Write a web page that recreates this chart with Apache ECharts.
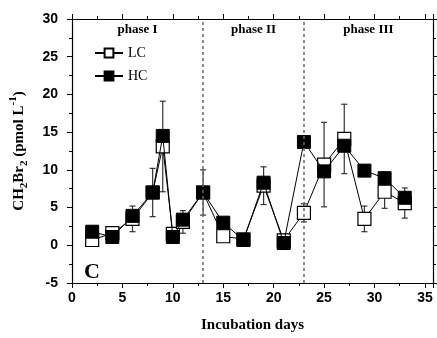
<!DOCTYPE html>
<html>
<head>
<meta charset="utf-8">
<script src="https://cdn.jsdelivr.net/npm/echarts@6/dist/echarts.min.js"></script>
<style>
  html, body { margin: 0; padding: 0; background: #fff; }
  #main { width: 437px; height: 338px; }
</style>
</head>
<body>
<div id="main"></div>
<script>
// incubation days
const days = [2, 4, 6, 8, 9, 10, 11, 13, 15, 17, 19, 21, 23, 25, 27, 29, 31, 33];
// CH2Br2 (pmol/L)
const lcValues = [0.7, 1.6, 3.5, 7.0, 13.1, 1.5, 3.1, 7.0, 1.2, 0.8, 7.9, 0.65, 4.3, 10.7, 14.1, 3.5, 7.1, 5.6];
const hcValues = [1.8, 1.1, 3.9, 7.0, 14.5, 1.1, 3.4, 7.0, 3.0, 0.7, 8.3, 0.3, 13.7, 9.8, 13.2, 9.9, 8.9, 6.3];
// error bars (+/-)
const lcErrors = [0.5, 0, 1.7, 0, 6.0, 0, 1.5, 0, 0.7, 0, 2.5, 0.5, 1.2, 5.6, 4.6, 1.7, 2.2, 2.0];
const hcErrors = [0, 0, 0, 3.2, 0, 0, 0, 3.0, 0, 0, 0, 0, 0, 0, 0, 0, 0, 0];
// phase boundaries
const phaseBreaks = [13, 23];
const phaseNames = ['phase I', 'phase II', 'phase III'];
const xMin = 0, xMax = 35.8;
const yMin = -5, yMax = 30;

const serif = 'Liberation Serif';
const sans = 'Liberation Sans';

const chart = echarts.init(document.getElementById('main'));

// error bar data: [x, low, high]
const errData = [];
days.forEach((d, i) => {
  if (lcErrors[i] > 0) errData.push([d, lcValues[i] - lcErrors[i], lcValues[i] + lcErrors[i]]);
  if (hcErrors[i] > 0) errData.push([d, hcValues[i] - hcErrors[i], hcValues[i] + hcErrors[i]]);
});

const bounds = [xMin].concat(phaseBreaks, [xMax]);
const phaseAreas = phaseNames.map((n, i) => [
  { xAxis: bounds[i], name: n },
  { xAxis: bounds[i + 1] }
]);

const tickStyle = { show: true, inside: false, length: 5, lineStyle: { color: '#000', width: 1 } };
const minorStyle = { show: true, splitNumber: 2, length: 3, lineStyle: { color: '#000', width: 1 } };
const lineAx = { show: true, onZero: false, lineStyle: { color: '#000', width: 1.2 } };

const option = {
  animation: false,
  backgroundColor: '#fff',
  grid: { left: 68, right: 4, top: 19, bottom: 47, show: false },
  legend: {
    data: ['LC', 'HC'],
    orient: 'vertical',
    left: 89, top: 41,
    itemWidth: 28, itemHeight: 11, itemGap: 9,
    textStyle: { fontFamily: serif, fontSize: 14, color: '#000' }
  },
  xAxis: [
    {
      type: 'value', min: xMin, max: xMax, interval: 5,
      axisLine: lineAx, axisTick: tickStyle, minorTick: minorStyle,
      splitLine: { show: false },
      axisLabel: {
        margin: 8, color: '#000', fontFamily: sans, fontWeight: 'bold', fontSize: 14,
        formatter: v => (v % 5 === 0 ? String(v) : '')
      },
      name: 'Incubation days', nameLocation: 'middle', nameGap: 35,
      nameTextStyle: { fontFamily: serif, fontWeight: 'bold', fontSize: 15, color: '#000' }
    },
    {
      type: 'value', position: 'top', min: xMin, max: xMax, interval: 5,
      axisLine: lineAx, axisTick: tickStyle, minorTick: minorStyle,
      splitLine: { show: false }, axisLabel: { show: false }
    }
  ],
  yAxis: [
    {
      type: 'value', min: yMin, max: yMax, interval: 5,
      axisLine: lineAx, axisTick: tickStyle, minorTick: minorStyle,
      splitLine: { show: false },
      axisLabel: { margin: 14, color: '#000', fontFamily: sans, fontWeight: 'bold', fontSize: 14 },
      name: '{a|CH}{s|2}{a|Br}{s|2}{a| (pmol L}{p|-1}{a|)}',
      nameLocation: 'middle', nameRotate: 90, nameGap: 42,
      nameTextStyle: {
        color: '#000',
        rich: {
          a: { fontFamily: serif, fontWeight: 'bold', fontSize: 15, lineHeight: 22, verticalAlign: 'middle', color: '#000' },
          s: { fontFamily: serif, fontWeight: 'bold', fontSize: 11, lineHeight: 11, verticalAlign: 'bottom', color: '#000' },
          p: { fontFamily: serif, fontWeight: 'bold', fontSize: 11, lineHeight: 11, verticalAlign: 'top', color: '#000' }
        }
      }
    },
    {
      type: 'value', position: 'right', min: yMin, max: yMax, interval: 5,
      axisLine: lineAx, axisTick: tickStyle, minorTick: minorStyle,
      splitLine: { show: false }, axisLabel: { show: false }
    }
  ],
  series: [
    {
      type: 'custom',
      name: 'err',
      z: 1,
      silent: true,
      renderItem: (params, api) => {
        const x = api.value(0);
        const lo = api.coord([x, api.value(1)]);
        const hi = api.coord([x, api.value(2)]);
        const cw = 3;
        const st = { stroke: '#333', lineWidth: 1.2 };
        return {
          type: 'group',
          children: [
            { type: 'line', shape: { x1: lo[0], y1: lo[1], x2: hi[0], y2: hi[1] }, style: st },
            { type: 'line', shape: { x1: hi[0] - cw, y1: hi[1], x2: hi[0] + cw, y2: hi[1] }, style: st },
            { type: 'line', shape: { x1: lo[0] - cw, y1: lo[1], x2: lo[0] + cw, y2: lo[1] }, style: st }
          ]
        };
      },
      data: errData
    },
    {
      name: 'LC',
      type: 'line',
      z: 3,
      data: days.map((d, i) => [d, lcValues[i]]),
      symbol: 'rect', symbolSize: 13,
      itemStyle: { color: '#fff', borderColor: '#000', borderWidth: 1.2 },
      lineStyle: { color: '#000', width: 1 },
      markLine: {
        silent: true, symbol: 'none',
        label: { show: false },
        lineStyle: { color: '#666', width: 1.5, type: [3, 3] },
        data: phaseBreaks.map(b => ({ xAxis: b }))
      },
      markArea: {
        silent: true,
        itemStyle: { color: 'rgba(0,0,0,0)' },
        label: {
          position: 'insideTop', distance: 4, color: '#000',
          fontFamily: serif, fontWeight: 'bold', fontSize: 13
        },
        data: phaseAreas
      }
    },
    {
      name: 'HC',
      type: 'line',
      z: 4,
      data: days.map((d, i) => [d, hcValues[i]]),
      symbol: 'rect', symbolSize: 13,
      itemStyle: { color: '#000', borderColor: '#000', borderWidth: 1 },
      lineStyle: { color: '#000', width: 1 }
    }
  ],
  graphic: [
    {
      type: 'text', left: 84, top: 261,
      style: { text: 'C', fontFamily: serif, fontWeight: 'bold', fontSize: 22, fill: '#000' }
    }
  ]
};

chart.setOption(option);
</script>
</body>
</html>
